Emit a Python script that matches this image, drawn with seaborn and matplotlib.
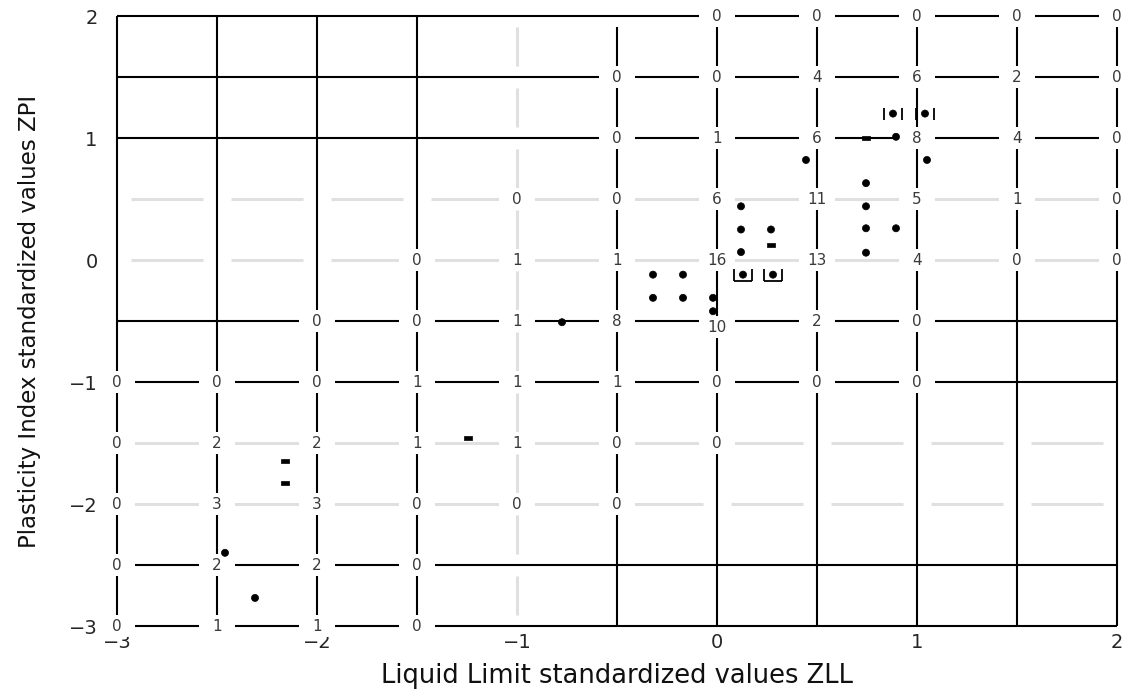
import numpy as np
import pandas as pd
import matplotlib
matplotlib.use("Agg")
import matplotlib.pyplot as plt
import seaborn as sns

# ---------------- data ----------------
grid_vals = [-3, -2.5, -2, -1.5, -1, -0.5, 0, 0.5, 1, 1.5, 2]
black_x = [-3, -2.5, -2, -1.5, -0.5, 0, 0.5, 1, 1.5, 2]
black_x_top = [2, 2, 2, 2, 1.91, 2, 2, 2, 2, 2]
gray_x = [-1]
black_y = [2, 1.5, 1, -0.5, -1, -2.5, -3]
gray_y = [0.5, 0, -1.5, -2]

count_x = [0, 0.5, 1, 1.5, 2,
           -0.5, 0, 0.5, 1, 1.5, 2,
           -0.5, 0, 0.5, 1, 1.5, 2,
           -1, -0.5, 0, 0.5, 1, 1.5, 2,
           -1.5, -1, -0.5, 0, 0.5, 1, 1.5, 2,
           -2, -1.5, -1, -0.5, 0, 0.5, 1,
           -3, -2.5, -2, -1.5, -1, -0.5, 0, 0.5, 1,
           -3, -2.5, -2, -1.5, -1, -0.5, 0,
           -3, -2.5, -2, -1.5, -1, -0.5,
           -3, -2.5, -2, -1.5,
           -3, -2.5, -2, -1.5]
count_y = [2, 2, 2, 2, 2,
           1.5, 1.5, 1.5, 1.5, 1.5, 1.5,
           1, 1, 1, 1, 1, 1,
           0.5, 0.5, 0.5, 0.5, 0.5, 0.5, 0.5,
           0, 0, 0, 0, 0, 0, 0, 0,
           -0.5, -0.5, -0.5, -0.5, -0.55, -0.5, -0.5,
           -1, -1, -1, -1, -1, -1, -1, -1, -1,
           -1.5, -1.5, -1.5, -1.5, -1.5, -1.5, -1.5,
           -2, -2, -2, -2, -2, -2,
           -2.5, -2.5, -2.5, -2.5,
           -3, -3, -3, -3]
count_text = ["0", "0", "0", "0", "0",
              "0", "0", "4", "6", "2", "0",
              "0", "1", "6", "8", "4", "0",
              "0", "0", "6", "11", "5", "1", "0",
              "0", "1", "1", "16", "13", "4", "0", "0",
              "0", "0", "1", "8", "10", "2", "0",
              "0", "0", "0", "1", "1", "1", "0", "0", "0",
              "0", "2", "2", "1", "1", "0", "0",
              "0", "3", "3", "0", "0", "0",
              "0", "2", "2", "0",
              "0", "1", "1", "0"]

pt_x = [-2.16, -2.16, -2.46, -2.31, -1.245, -0.775,
        -0.32, -0.17, -0.32, -0.17, -0.02,
        0.12, 0.12, 0.27, 0.12, 0.27,
        0.445, 0.745, 0.895, 1.05, 0.745, 0.745, 0.745, 0.895, 0.745,
        0.88, 1.04, 0.13, 0.28, -0.02]
pt_y = [-1.65, -1.83, -2.40, -2.77, -1.46, -0.51,
        -0.12, -0.12, -0.31, -0.31, -0.31,
        0.44, 0.25, 0.25, 0.065, 0.12,
        0.82, 1.0, 1.01, 0.82, 0.63, 0.44, 0.26, 0.26, 0.06,
        1.20, 1.20, -0.12, -0.12, -0.42]
pt_kind = ["dash", "dash", "dot", "dot", "dash", "dot",
           "dot", "dot", "dot", "dot", "dot",
           "dot", "dot", "dot", "dot", "dash",
           "dot", "dash", "dot", "dot", "dot", "dot", "dot", "dot", "dot",
           "dot", "dot", "dot", "dot", "dot"]
bar_x = [0.88, 1.04]
bar_y = [1.20, 1.20]
cup_x = [0.13, 0.28]
cup_y = [-0.12, -0.12]

x_ticks = [-3, -2, -1, 0, 1, 2]
y_ticks = [-3, -2, -1, 0, 1, 2]
x_label = "Liquid Limit standardized values ZLL"
y_label = "Plasticity Index standardized values ZPI"

# ---------------- figure ----------------
sns.set_theme(style="white")
plt.rcParams["font.family"] = ["DejaVu Sans"]

fig = plt.figure(figsize=(11.35, 6.93), dpi=100)
ax = fig.add_axes([0.10308, 0.09668, 0.88106, 0.88023])
ax.set_xlim(-3, 2)
ax.set_ylim(-3, 2)
for s in ax.spines.values():
    s.set_visible(False)

# light gray broken grid lines
gx = 0.07
gy = 0.09
gray_col = "#e0e0e0"
for y in gray_y:
    a = np.array(grid_vals[:-1]) + gx
    b = np.array(grid_vals[1:]) - gx
    ax.hlines([y] * len(a), a, b, color=gray_col, lw=2.2, zorder=1)
for x in gray_x:
    a = np.array(grid_vals[:-1]) + gy
    b = np.array(grid_vals[1:]) - gy
    ax.vlines([x] * len(a), a, b, color=gray_col, lw=2.2, zorder=1)

# black grid lines
ax.vlines(black_x, -3, black_x_top, color="black", lw=1.5, zorder=2, clip_on=False)
ax.hlines(black_y, -3, 2, color="black", lw=1.5, zorder=2, clip_on=False)

# white patches behind count labels
rect = [(-1.7, -1), (1.7, -1), (1.7, 1), (-1.7, 1), (-1.7, -1)]
sns.scatterplot(x=count_x, y=count_y, marker=rect, s=700, color="white",
                edgecolor="none", linewidth=0, zorder=3, clip_on=False, ax=ax,
                legend=False)
for x, y, t in zip(count_x, count_y, count_text):
    ax.text(x, y, t, ha="center", va="center", fontsize=11, color="#3a3a3a",
            zorder=4)

# data points
df = pd.DataFrame({"x": pt_x, "y": pt_y, "kind": pt_kind})
dash = [(-1.6, -0.8), (1.6, -0.8), (1.6, 0.8), (-1.6, 0.8), (-1.6, -0.8)]
sns.scatterplot(data=df, x="x", y="y", style="kind",
                markers={"dot": "o", "dash": dash}, size="kind",
                sizes={"dot": 26, "dash": 36}, color="black",
                edgecolor="black", linewidth=0.5, legend=False, zorder=5, ax=ax)

ax.errorbar(bar_x, bar_y, xerr=0.045, fmt="none", ecolor="black",
            elinewidth=0, capsize=4, capthick=1.3, zorder=5)
ax.errorbar(cup_x, cup_y, xerr=0.045, fmt="none", ecolor="black",
            elinewidth=0, capsize=4, capthick=1.3, zorder=5)
ax.hlines(np.array(cup_y) - 0.05, np.array(cup_x) - 0.045,
          np.array(cup_x) + 0.045, color="black", lw=1.3, zorder=5)

# ticks & labels
ax.set_xticks(x_ticks)
ax.set_yticks(y_ticks)
ax.set_xticklabels([str(v).replace("-", "\u2212") for v in x_ticks])
ax.set_yticklabels([str(v).replace("-", "\u2212") for v in y_ticks])
ax.tick_params(axis="x", length=0, labelsize=14, pad=5)
ax.tick_params(axis="y", length=0, labelsize=14, pad=14)
ax.grid(False)
ax.set_xlabel(x_label, fontsize=18.5, labelpad=8, color="#111111")
ax.set_ylabel(y_label, fontsize=16.5, labelpad=20, color="#111111")

fig.savefig("out.png", dpi=100, facecolor="white")
